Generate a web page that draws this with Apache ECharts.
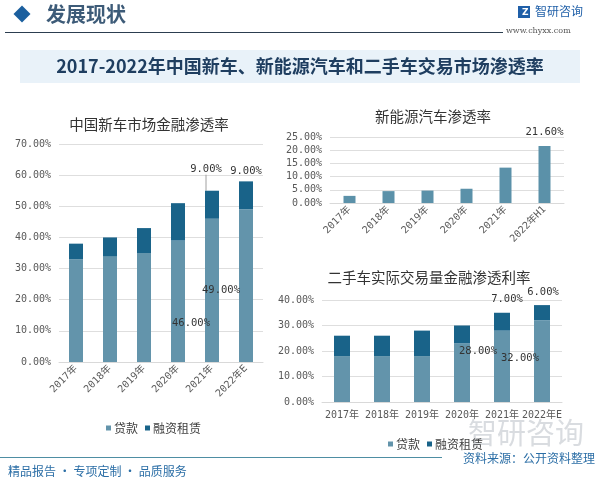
<!DOCTYPE html>
<html><head><meta charset="utf-8">
<script src="https://cdn.jsdelivr.net/npm/echarts@6/dist/echarts.min.js"></script>
<style>html,body{margin:0;padding:0;background:#fff}#c{width:600px;height:479px}</style>
</head><body><div id="c"></div>
<script>
// ---- data ----
const years = ['2017年','2018年','2019年','2020年','2021年','2022年E'];
const newCarLoan = [33, 34, 35, 39, 46, 49];
const newCarLease = [5, 6, 8, 12, 9, 9];
const nevYears = ['2017年','2018年','2019年','2020年','2021年','2022年H1'];
const nevRate = [2.7, 4.5, 4.7, 5.4, 13.4, 21.6];
const usedYears = ['2017年','2018年','2019年','2020年','2021年','2022年E'];
const usedLoan = [18, 18, 18, 23, 28, 32];
const usedLease = [8, 8, 10, 7, 7, 6];
const seriesNames = ['贷款', '融资租赁'];

// ---- label styling (which values are labelled, and where) ----
const newLoanLabels = {4: {position: 'inside', offset: [-21, 33]}, 5: {position: 'inside', offset: [-25, 5]}};
const newLeaseLabels = {4: {position: 'top', offset: [0, 0], line: true}, 5: {position: 'top', offset: [0, 0]}};
const nevLabels = {5: {position: 'top', offset: [0, -3]}};
const usedLoanLabels = {4: {position: 'inside', offset: [-24, -15]}, 5: {position: 'inside', offset: [-22, -3]}};
const usedLeaseLabels = {4: {position: 'top', offset: [5, -3]}, 5: {position: 'top', offset: [1, -3]}};

const C_LOAN = '#6394ab', C_LEASE = '#196389', C_NEV = '#5b91a9';
const MONO = 'DejaVu Sans Mono, Noto Sans CJK SC';
const CJK = 'Noto Sans CJK SC';
const pct = v => Number(v).toFixed(2) + '%';

function mk(vals, labels) {
  return vals.map((v, i) => {
    const l = labels[i];
    if (!l) return v;
    return {value: v,
      label: {show: true, position: l.position, offset: l.offset},
      labelLine: {show: !!l.line, length2: 0, lineStyle: {color: '#a0a0a0', width: 1}}};
  });
}
const baseLabel = {show: false, formatter: p => pct(p.value), fontFamily: MONO, fontSize: 10.5, color: '#333'};

function yAx(idx, max, interval) {
  return {type: 'value', gridIndex: idx, min: 0, max: max, interval: interval,
    axisLabel: {formatter: v => pct(v), fontFamily: MONO, fontSize: 10, color: '#595959', margin: 8},
    splitLine: {lineStyle: {color: '#dedede'}}, axisLine: {show: false}, axisTick: {show: false}};
}
function xAx(idx, data, rotate) {
  return {type: 'category', gridIndex: idx, data: data,
    axisLine: {lineStyle: {color: '#d9d9d9'}}, axisTick: {show: false},
    axisLabel: {rotate: rotate, fontFamily: MONO, fontSize: 10, color: '#595959', margin: rotate ? 5 : 8, interval: 0}};
}

const chart = echarts.init(document.getElementById('c'), null, {renderer: 'canvas'});
chart.setOption({
  animation: false,
  backgroundColor: '#fff',
  title: [
    {text: '中国新车市场金融渗透率', left: 144, top: 112, textAlign: 'center',
      textStyle: {fontFamily: CJK, fontSize: 14.5, fontWeight: 'normal', color: '#333'}},
    {text: '新能源汽车渗透率', left: 428, top: 104, textAlign: 'center',
      textStyle: {fontFamily: CJK, fontSize: 14.5, fontWeight: 'normal', color: '#333'}},
    {text: '二手车实际交易量金融渗透利率', left: 424, top: 265, textAlign: 'center',
      textStyle: {fontFamily: CJK, fontSize: 14.5, fontWeight: 'normal', color: '#333'}}
  ],
  legend: [
    {data: seriesNames.map(n => ({name: n})), left: 101, top: 417, icon: 'rect', itemWidth: 5, itemHeight: 5, itemGap: 7,
      textStyle: {fontFamily: CJK, fontSize: 12, color: '#404040', padding: [0, 0, 0, -2]}},
    {data: seriesNames.map(n => ({name: n + ' '})), left: 383, top: 433, icon: 'rect', itemWidth: 5, itemHeight: 5, itemGap: 7,
      formatter: n => n.trim(),
      textStyle: {fontFamily: CJK, fontSize: 12, color: '#404040', padding: [0, 0, 0, -2]}}
  ],
  grid: [
    {left: 59, width: 204, top: 144, height: 218},
    {left: 330, width: 234, top: 137, height: 66},
    {left: 322, width: 240, top: 300, height: 102}
  ],
  xAxis: [xAx(0, years, 45), xAx(1, nevYears, 45), xAx(2, usedYears, 0)],
  yAxis: [yAx(0, 70, 10), yAx(1, 25, 5), yAx(2, 40, 10)],
  series: [
    {name: '贷款', type: 'bar', stack: 'a', xAxisIndex: 0, yAxisIndex: 0, barWidth: 14,
      itemStyle: {color: C_LOAN}, label: baseLabel, data: mk(newCarLoan, newLoanLabels)},
    {name: '融资租赁', type: 'bar', stack: 'a', xAxisIndex: 0, yAxisIndex: 0, barWidth: 14,
      itemStyle: {color: C_LEASE}, label: baseLabel, data: mk(newCarLease, newLeaseLabels),
      labelLayout: p => p.dataIndex === 4 ? {dx: -6, dy: -11} : {}},
    {name: '新能源', type: 'bar', xAxisIndex: 1, yAxisIndex: 1, barWidth: 12,
      itemStyle: {color: C_NEV}, label: baseLabel, data: mk(nevRate, nevLabels)},
    {name: '贷款 ', type: 'bar', stack: 'b', xAxisIndex: 2, yAxisIndex: 2, barWidth: 16,
      itemStyle: {color: C_LOAN}, label: baseLabel, data: mk(usedLoan, usedLoanLabels)},
    {name: '融资租赁 ', type: 'bar', stack: 'b', xAxisIndex: 2, yAxisIndex: 2, barWidth: 16,
      itemStyle: {color: C_LEASE}, label: baseLabel, data: mk(usedLease, usedLeaseLabels)}
  ],
  graphic: [
    // header
    {type: 'rect', shape: {x: -6, y: -6, width: 12, height: 12}, x: 22, y: 14, rotation: Math.PI / 4,
      style: {fill: '#1b5f9e'}},
    {type: 'text', x: 46, y: 4, style: {text: '发展现状', fontFamily: CJK, fontSize: 20, fontWeight: 'bold', fill: '#3d5b78'}},
    {type: 'line', shape: {x1: 5, y1: 32.5, x2: 503, y2: 32.5}, style: {stroke: '#2c3e50', lineWidth: 1}},
    {type: 'rect', shape: {x: 518, y: 6, width: 12, height: 12}, style: {fill: '#1f5fa8'}},
    {type: 'text', x: 522, y: 8, style: {text: 'Z', fontFamily: 'DejaVu Sans', fontSize: 9, fontWeight: 'bold', fill: '#fff'}},
    {type: 'text', x: 535, y: 5, style: {text: '智研咨询', fontFamily: CJK, fontSize: 12, fill: '#1f5fa8'}},
    {type: 'text', x: 506, y: 27, style: {text: 'www.chyxx.com', fontFamily: 'DejaVu Serif', fontSize: 8, fill: '#555'}},
    // title banner
    {type: 'rect', shape: {x: 20, y: 50, width: 560, height: 33}, style: {fill: '#e9f2f9'}},
    {type: 'text', x: 300, y: 66, style: {text: '2017-2022年中国新车、新能源汽车和二手车交易市场渗透率', fontFamily: CJK,
      fontSize: 18, fontWeight: 'bold', fill: '#1f3e60', align: 'center', verticalAlign: 'middle'}},
    // watermark
    {type: 'text', x: 468, y: 418, style: {text: '智研咨询', fontFamily: CJK, fontSize: 29, fill: 'rgba(170,178,186,0.45)'}},
    // footer
    {type: 'line', shape: {x1: 0, y1: 457.5, x2: 442, y2: 457.5}, style: {stroke: '#4e8ea3', lineWidth: 1.2}},
    {type: 'text', x: 8, y: 465, style: {text: '精品报告 · 专项定制 · 品质服务', fontFamily: CJK, fontSize: 12, fill: '#2b6ea6'}},
    {type: 'text', x: 463, y: 452, style: {text: '资料来源：公开资料整理', fontFamily: CJK, fontSize: 12, fill: '#2b6ea6'}}
  ]
});
</script>
</body></html>
